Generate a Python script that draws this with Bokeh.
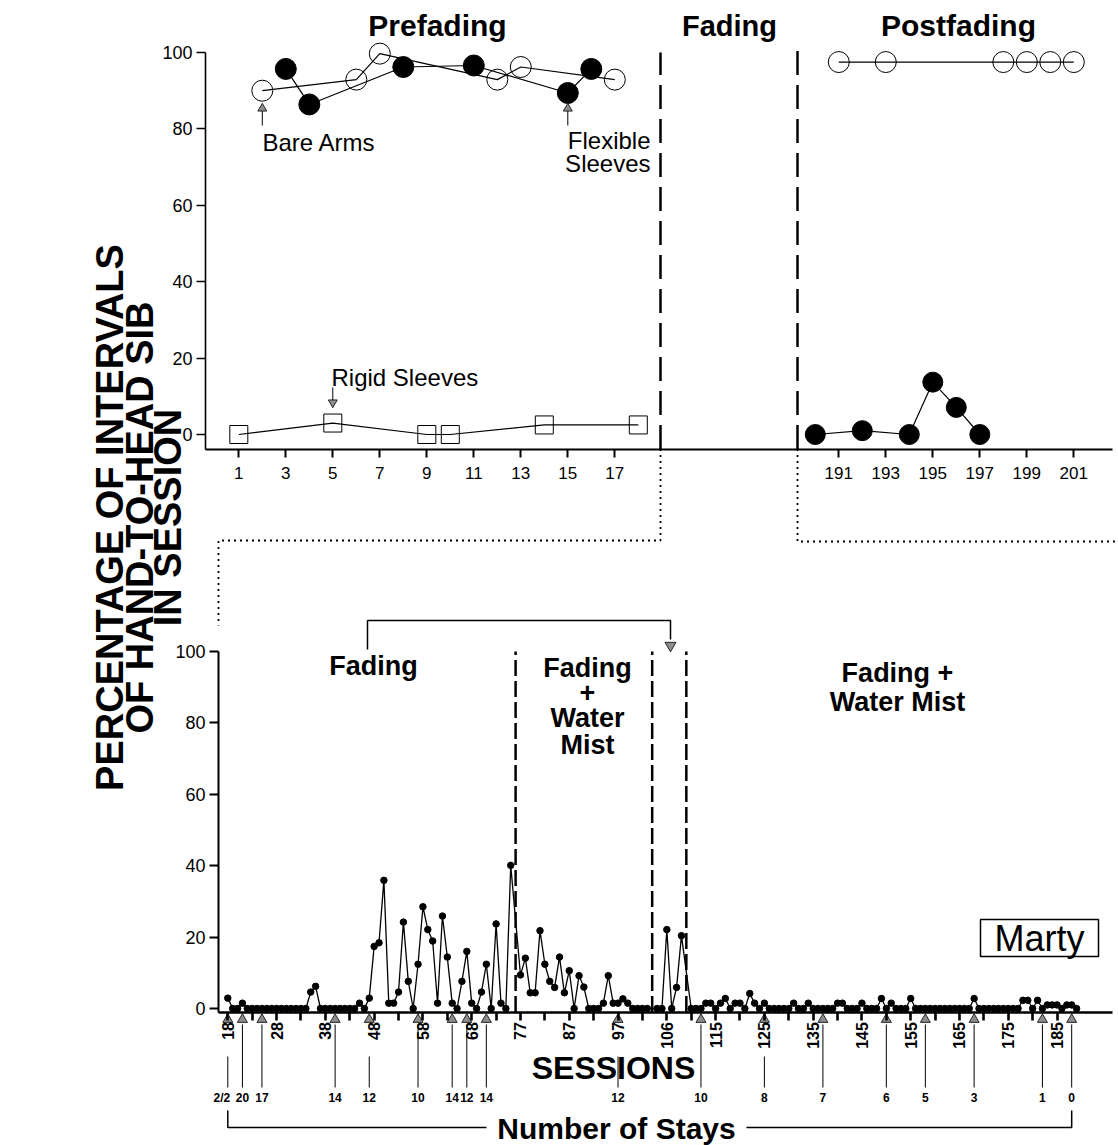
import math
from bokeh.plotting import figure
from bokeh.models import Range1d, LinearAxis, FixedTicker
from bokeh.core.properties import value
from bokeh.embed import file_html
from bokeh.resources import INLINE

# ---------------------------------------------------------------- data
# Prefading (top-left panel)
pre_open_sessions = [2, 6, 7, 12, 13, 17]            # Bare Arms
pre_open_values = [90.0, 92.9, 99.7, 92.9, 96.2, 92.9]
pre_filled_sessions = [3, 4, 8, 11, 15, 16]          # Flexible Sleeves
pre_filled_values = [95.7, 86.4, 96.2, 96.6, 89.4, 95.7]
pre_square_sessions = [1, 5, 9, 10, 14, 18]          # Rigid Sleeves
pre_square_values = [0.0, 3.0, 0.0, 0.0, 2.5, 2.5]

# Postfading (top-right panel)
post_filled_sessions = [190, 192, 194, 195, 196, 197]
post_filled_values = [0.0, 1.0, 0.0, 13.7, 7.1, 0.0]
post_open_sessions = [191, 193, 198, 199, 200, 201]
post_open_values = [97.5, 97.5, 97.5, 97.5, 97.5, 97.5]

# Fading phases (bottom panel), sessions 18..189
fading_sessions = list(range(18, 190))
fading_values_a = [  # sessions 18-76 (Fading)
    2.9, 0, 0, 1.5, 0, 0, 0, 0, 0, 0, 0, 0, 0, 0, 0, 0, 0,
    4.6, 6.2, 0, 0, 0, 0, 0, 0, 0, 0,
    1.5, 0, 2.9, 17.4, 18.4, 35.9, 1.5, 1.5, 4.6, 24.2,
    7.6, 0, 12.4, 28.5, 22.1, 18.9, 1.5, 25.9, 14.4, 1.5,
    0, 7.6, 16.0, 1.5, 0, 4.6, 12.4, 0, 23.7, 1.5,
    0, 40.1]
fading_values_b = [  # sessions 77-103 (Fading + Water Mist), 104-109 (Fading)
    9.4, 14.1, 4.4, 4.4, 21.8, 12.4, 7.6, 5.9, 14.4, 4.4,
    10.6, 0, 9.2, 6.0, 0, 0, 0, 1.5, 9.2, 1.5,
    1.5, 2.7, 1.5, 0, 0, 0, 0, 0, 0, 22.1,
    0, 5.9, 20.4]
fading_values_c = [  # sessions 110-189 (Fading + Water Mist)
    0, 0, 0, 1.5, 1.5, 0, 1.5, 2.8, 0, 1.5,
    1.5, 0, 4.2, 1.5, 0, 1.5, 0, 0, 0, 0,
    0, 1.5, 0, 0, 1.5, 0, 0, 0, 0, 0,
    1.5, 1.5, 0, 0, 0, 1.5, 0, 0, 0, 2.8,
    0, 1.5, 0, 0, 0, 2.8, 0, 0, 0, 0,
    0, 0, 0, 0, 0, 0, 0, 0, 2.8, 0,
    0, 0, 0, 0, 0, 0, 0, 0, 2.3, 2.3,
    0, 2.3, 0, 1.0, 1.0, 1.0, 0, 1.0, 1.0, 0]
fading_values = fading_values_a + fading_values_b + fading_values_c
assert len(fading_values) == len(fading_sessions)

phase_last_sessions = [76, 103, 109]      # last session before each phase line
bottom_tick_sessions = [18, 28, 38, 48, 58, 68, 77, 87, 97, 106, 115, 125,
                        135, 145, 155, 165, 175, 185]
stay_sessions = [18, 21, 25, 40, 47, 57, 64, 67, 71, 97, 112, 125, 137,
                 150, 158, 168, 182, 188]
stay_labels = ["2/2", "20", "17", "14", "12", "10", "14", "12", "14", "12",
               "10", "8", "7", "6", "5", "3", "1", "0"]
stay_label_overlap = [18, 47, 97, 125]    # arrows whose line is cut by a tick label

top_y_ticks = [0, 20, 40, 60, 80, 100]
bot_y_ticks = [0, 20, 40, 60, 80, 100]
pre_ticks = [1, 3, 5, 7, 9, 11, 13, 15, 17]
post_ticks = [191, 193, 195, 197, 199, 201]


def slot(s):
    """plot slot: one blank slot is left at every phase change"""
    return s + sum(1 for b in phase_last_sessions if s > b)


# ---------------------------------------------------------------- layout
W, H = 1118, 1145
PRE_S1_PX, SESSION_PX = 238.3, 23.5
POST_S191_PX = 838.3
TOP_ZERO_PX, TOP_UNIT_PX = 434.0, 3.82
SLOT18_PX, SLOT_PX = 227.3, 4.878
BOT_ZERO_PX, BOT_UNIT_PX = 1008.0, 3.57


def pre_x(px): return 1 + (px - PRE_S1_PX) / SESSION_PX
def post_x(px): return 191 + (px - POST_S191_PX) / SESSION_PX
def slot_x(px): return 18 + (px - SLOT18_PX) / SLOT_PX
def top_y(py): return (TOP_ZERO_PX - py) / TOP_UNIT_PX
def bot_y(py): return (BOT_ZERO_PX - py) / BOT_UNIT_PX


p = figure(width=W, height=H,
           x_range=Range1d(pre_x(0), pre_x(W)),
           y_range=Range1d(top_y(H), top_y(0)),
           x_axis_type=None, y_axis_type=None,
           toolbar_location=None, output_backend="svg",
           min_border=0, outline_line_color=None)
p.extra_x_ranges = {"post": Range1d(post_x(0), post_x(W)),
                    "slot": Range1d(slot_x(0), slot_x(W))}
p.extra_y_ranges = {"bot": Range1d(bot_y(H), bot_y(0))}
p.background_fill_color = "white"
p.border_fill_color = "white"

FONT = "Liberation Sans"


def style(ax, font_px, lw, tick_out, standoff, bold=False):
    ax.axis_line_color = "black"
    ax.axis_line_width = lw
    ax.major_tick_line_color = "black"
    ax.major_tick_line_width = lw
    ax.major_tick_in = 0
    ax.major_tick_out = tick_out
    ax.minor_tick_line_color = "black"
    ax.minor_tick_line_width = lw
    ax.minor_tick_in = 0
    ax.minor_tick_out = tick_out
    ax.major_label_text_font = FONT
    ax.major_label_text_font_size = f"{font_px}px"
    ax.major_label_text_font_style = "bold" if bold else "normal"
    ax.major_label_text_color = "black"
    ax.major_label_standoff = standoff


TOP_AXIS_Y = top_y(448.5)
BOT_AXIS_SLOT = slot_x(218)

ay_top = LinearAxis(ticker=FixedTicker(ticks=top_y_ticks),
                    fixed_location=pre_x(205), bounds=(TOP_AXIS_Y, 100))
style(ay_top, 18, 1.6, 9, 4)
p.add_layout(ay_top, "left")

ax_pre = LinearAxis(ticker=FixedTicker(ticks=pre_ticks),
                    fixed_location=TOP_AXIS_Y, bounds=(pre_x(205), pre_x(1112)))
style(ax_pre, 17, 2, 8, 10)
p.add_layout(ax_pre, "below")

ax_post = LinearAxis(x_range_name="post", ticker=FixedTicker(ticks=post_ticks),
                     fixed_location=TOP_AXIS_Y)
style(ax_post, 17, 2, 8, 10)
ax_post.axis_line_color = None
p.add_layout(ax_post, "below")

ay_bot = LinearAxis(x_range_name="slot", y_range_name="bot",
                    ticker=FixedTicker(ticks=bot_y_ticks),
                    fixed_location=BOT_AXIS_SLOT, bounds=(-1, 100))
style(ay_bot, 18, 2, 9, 4)
p.add_layout(ay_bot, "left")

major_slots = [slot(s) for s in bottom_tick_sessions]
minor_slots = [m + 5 for m in major_slots[:-1]]
ax_bot = LinearAxis(x_range_name="slot", y_range_name="bot",
                    ticker=FixedTicker(ticks=major_slots, minor_ticks=minor_slots),
                    fixed_location=-1, bounds=(BOT_AXIS_SLOT, slot_x(1112)),
                    major_label_overrides={m: str(s) for m, s in zip(major_slots, bottom_tick_sessions)},
                    major_label_orientation=math.pi / 2)
style(ax_bot, 16, 2.6, 8, 2, bold=True)
p.add_layout(ax_bot, "below")


def text(x, y, s, size, bold=False, align="center", baseline="middle", angle=0.0,
         xr="default", yr="default"):
    p.text(x=[x], y=[y], text=[s], text_font=value(FONT),
           text_font_size=f"{size}px", text_font_style="bold" if bold else "normal",
           text_align=align, text_baseline=baseline, angle=angle,
           text_color="black", x_range_name=xr, y_range_name=yr)


# ---------------------------------------------------------------- phase lines
p.segment(x0=[pre_x(660)], y0=[TOP_AXIS_Y], x1=[pre_x(660)], y1=[100],
          line_color="black", line_width=2.5, line_dash="24 10")
p.segment(x0=[post_x(797)], y0=[TOP_AXIS_Y], x1=[post_x(797)], y1=[100.5],
          line_color="black", line_width=2.5, line_dash="24 10", x_range_name="post")
bot_lines = [slot(b) + 1 for b in phase_last_sessions]
p.segment(x0=bot_lines, y0=[-1] * 3, x1=bot_lines, y1=[100] * 3,
          line_color="black", line_width=2.5, line_dash="16 5",
          x_range_name="slot", y_range_name="bot")

# dotted connectors
p.line(x=[pre_x(660), pre_x(660), pre_x(218), pre_x(218)],
       y=[TOP_AXIS_Y, top_y(540), top_y(540), top_y(625)],
       line_color="black", line_width=1.8, line_dash="2 4")
p.line(x=[post_x(797), post_x(797), post_x(W)],
       y=[TOP_AXIS_Y, top_y(541), top_y(541)], x_range_name="post",
       line_color="black", line_width=1.8, line_dash="2 4")

# ---------------------------------------------------------------- top data
p.line(pre_square_sessions, pre_square_values, line_color="black", line_width=1.2)
p.scatter(pre_square_sessions, pre_square_values, marker="square", size=18,
          fill_color=None, line_color="black", line_width=1)
p.line(pre_open_sessions, pre_open_values, line_color="black", line_width=1.2)
p.scatter(pre_open_sessions, pre_open_values, marker="circle", size=21,
          fill_color=None, line_color="black", line_width=1)
p.line(pre_filled_sessions, pre_filled_values, line_color="black", line_width=1.2)
p.scatter(pre_filled_sessions, pre_filled_values, marker="circle", size=21,
          fill_color="black", line_color="black")

p.line(post_open_sessions, post_open_values, line_color="black", line_width=1.2,
       x_range_name="post")
p.scatter(post_open_sessions, post_open_values, marker="circle", size=21,
          fill_color=None, line_color="black", line_width=1, x_range_name="post")
p.line(post_filled_sessions, post_filled_values, line_color="black", line_width=1.2,
       x_range_name="post")
p.scatter(post_filled_sessions, post_filled_values, marker="circle", size=20,
          fill_color="black", line_color="black", x_range_name="post")

# top annotations
text(pre_x(437), top_y(25), "Prefading", 30, bold=True)
text(pre_x(729), top_y(25), "Fading", 29, bold=True)
text(post_x(958), top_y(25), "Postfading", 30, bold=True, xr="post")

for s in [2, 15]:
    p.segment(x0=[s], y0=[top_y(125)], x1=[s], y1=[top_y(110)], line_color="black", line_width=1)
    p.scatter([s], [top_y(108)], marker="triangle", size=9, fill_color="#8c8c8c",
              line_color="black", line_width=0.8)
text(pre_x(262), top_y(142), "Bare Arms", 24, align="left")
text(pre_x(650), top_y(140), "Flexible", 24, align="right")
text(pre_x(650), top_y(163), "Sleeves", 24, align="right")

p.segment(x0=[5], y0=[top_y(387)], x1=[5], y1=[top_y(400)], line_color="black", line_width=1)
p.scatter([5], [top_y(402)], marker="inverted_triangle", size=9, fill_color="#8c8c8c",
          line_color="black", line_width=0.8)
text(pre_x(331), top_y(377), "Rigid Sleeves", 24, align="left")

# big y label
for lbl, xpx in zip(["PERCENTAGE OF INTERVALS", "OF HAND-TO-HEAD SIB", "IN SESSION"],
                    [109, 139, 167]):
    text(pre_x(xpx), top_y(517), lbl, 38, bold=True, angle=math.pi / 2)

# ---------------------------------------------------------------- bottom data
fading_slots = [slot(s) for s in fading_sessions]
p.line(fading_slots, fading_values, line_color="black", line_width=1.3,
       x_range_name="slot", y_range_name="bot")
p.scatter(fading_slots, fading_values, marker="circle", size=6.5,
          fill_color="black", line_color="black",
          x_range_name="slot", y_range_name="bot")

# phase labels
bt = dict(xr="slot", yr="bot")
text(slot_x(373), bot_y(665), "Fading", 27, bold=True, **bt)
for lbl, ypx in zip(["Fading", "+", "Water", "Mist"], [667, 692, 717, 744]):
    text(slot_x(587), bot_y(ypx), lbl, 27, bold=True, **bt)
text(slot_x(897), bot_y(672), "Fading +", 27, bold=True, **bt)
text(slot_x(897), bot_y(701), "Water Mist", 27, bold=True, **bt)

# bracket from Fading to reversal phase
p.line(x=[slot_x(367), slot_x(367), slot_x(670), slot_x(670)],
       y=[bot_y(649), bot_y(620), bot_y(620), bot_y(639)],
       line_color="black", line_width=1.5, x_range_name="slot", y_range_name="bot")
p.scatter([slot_x(670)], [bot_y(645)], marker="inverted_triangle", size=11,
          fill_color="#8c8c8c", line_color="black", line_width=0.8,
          x_range_name="slot", y_range_name="bot")

# Marty box
p.quad(left=[slot_x(980)], right=[slot_x(1098)], top=[bot_y(919)], bottom=[bot_y(956)],
       fill_color="white", line_color="black", line_width=1.5,
       x_range_name="slot", y_range_name="bot")
text(slot_x(1039), bot_y(938), "Marty", 36, **bt)

# stays arrows
stay_slots = [slot(s) for s in stay_sessions]
y_top_full = [bot_y(1056) if s in stay_label_overlap else bot_y(1024) for s in stay_sessions]
p.segment(x0=stay_slots, y0=y_top_full, x1=stay_slots, y1=[bot_y(1087)] * len(stay_slots),
          line_color="black", line_width=1, x_range_name="slot", y_range_name="bot")
p.scatter(stay_slots, [bot_y(1019)] * len(stay_slots), marker="triangle", size=10,
          fill_color="#8c8c8c", line_color="black", line_width=0.8,
          x_range_name="slot", y_range_name="bot")
stay_x_offset = [-6] + [0] * (len(stay_slots) - 1)
p.text(x=stay_slots, y=[bot_y(1097)] * len(stay_slots), text=stay_labels,
       x_offset=stay_x_offset,
       text_font=value(FONT), text_font_size="12px", text_font_style="bold",
       text_align="center", text_baseline="middle", text_color="black",
       x_range_name="slot", y_range_name="bot")

text(slot_x(613), bot_y(1067), "SESSIONS", 32, bold=True, **bt)

# Number of Stays bracket
p.line(x=[stay_slots[0], stay_slots[0], stay_slots[-1], stay_slots[-1]],
       y=[bot_y(1110), bot_y(1127), bot_y(1127), bot_y(1110)],
       line_color="black", line_width=1.5, x_range_name="slot", y_range_name="bot")
p.quad(left=[slot_x(486)], right=[slot_x(746)], top=[bot_y(1113)], bottom=[bot_y(1143)],
       fill_color="white", line_color=None, x_range_name="slot", y_range_name="bot")
text(slot_x(616), bot_y(1128), "Number of Stays", 30, bold=True, **bt)

open("out.html", "w").write(file_html(p, INLINE))
